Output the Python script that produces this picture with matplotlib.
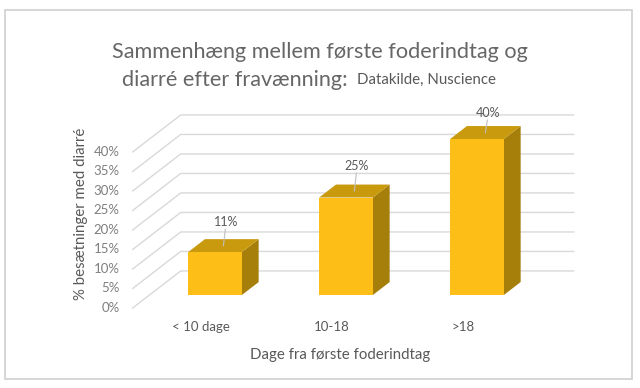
import matplotlib
matplotlib.use("Agg")
import matplotlib.pyplot as plt
from matplotlib.patches import Polygon, Rectangle

categories = ["< 10 dage", "10-18", ">18"]
values = [11, 25, 40]
value_labels = ["11%", "25%", "40%"]
yticks = [0, 5, 10, 15, 20, 25, 30, 35, 40]
ytick_labels = ["0%", "5%", "10%", "15%", "20%", "25%", "30%", "35%", "40%"]

title1 = "Sammenhæng mellem første foderindtag og"
title2a = "diarré efter fravænning: "
title2b = "Datakilde, Nuscience"
xlabel = "Dage fra første foderindtag"
ylabel = "% besætninger med diarré"

FONT = ["Lato", "DejaVu Sans"]
plt.rcParams["font.family"] = FONT

W, H = 640, 388
fig = plt.figure(figsize=(W / 100, H / 100), dpi=100)
ax = fig.add_axes([0, 0, 1, 1])
ax.axis("off")

# pixel geometry of the pseudo-3D frame
PX_CAT = 131.0      # px per category step
PX_VAL = 3.9        # px per percent
X0 = 215.0          # px of category 0 (bar front plane)
Y0 = 295.0          # px (from top) of value 0 (bar front plane)
DEPTH = (48.0, 37.0)  # px per unit depth (right, up)
ax.set_xlim(-X0 / PX_CAT, (W - X0) / PX_CAT)
ax.set_ylim(-(H - Y0) / PX_VAL, Y0 / PX_VAL)

Z_FRONT, Z_BAR, Z_BACK = -0.35, 0.35, 0.65
BAR_W = 0.41


def P(c, v, z=0.0):
    return (c + z * DEPTH[0] / PX_CAT, v + z * DEPTH[1] / PX_VAL)


grid_col = "#D9D9D9"
x_left, x_right = -0.5, len(categories) - 0.5
for t in yticks:
    pts = [P(x_left, t, Z_FRONT), P(x_left, t, Z_BACK), P(x_right, t, Z_BACK)]
    ax.plot([p[0] for p in pts], [p[1] for p in pts], color=grid_col, lw=1.0, zorder=1)

for t, lab in zip(yticks, ytick_labels):
    x, y = P(x_left, t, Z_FRONT)
    ax.annotate(lab, (x, y), xytext=(-13, 0), textcoords="offset pixels",
                ha="right", va="center", fontsize=9.5, color="#7F7F7F")

front_col, top_col, side_col = "#FCBE17", "#C99A0E", "#A67E0A"
label_lift = [4.2, 4.6, 3.2]
for i, v in enumerate(values):
    l, r = i - BAR_W / 2, i + BAR_W / 2
    side = [P(r, 0, 0), P(r, v, 0), P(r, v, Z_BAR), P(r, 0, Z_BAR)]
    top = [P(l, v, 0), P(r, v, 0), P(r, v, Z_BAR), P(l, v, Z_BAR)]
    front = [P(l, 0, 0), P(r, 0, 0), P(r, v, 0), P(l, v, 0)]
    ax.add_patch(Polygon(side, closed=True, fc=side_col, ec="none", zorder=3))
    ax.add_patch(Polygon(top, closed=True, fc=top_col, ec="none", zorder=3))
    ax.add_patch(Polygon(front, closed=True, fc=front_col, ec="none", zorder=4))
    # data label with leader line
    cx, cy = P(i, v, Z_BAR / 2)
    lift = label_lift[i]
    ax.plot([cx, cx + 0.015], [cy, cy + lift], color="#BFBFBF", lw=0.8, zorder=5)
    ax.annotate(value_labels[i], (cx + 0.02, cy + lift), xytext=(0, 1), textcoords="offset pixels",
                ha="center", va="bottom", fontsize=9, color="#595959", zorder=6)

for i, lab in enumerate(categories):
    x, y = P(i, 0, Z_FRONT)
    ax.annotate(lab, (x, y), xytext=(3, -19), textcoords="offset pixels",
                ha="center", va="center", fontsize=9.5, color="#595959")

fig.text(340 / W, 1 - 355 / H, xlabel, ha="center", va="center", fontsize=10.8, color="#595959")
fig.text(81 / W, 1 - 214 / H, ylabel, ha="center", va="center", fontsize=10.8, color="#595959",
         rotation=90)

fig.text(320 / W, 1 - 52 / H, title1, ha="center", va="center", fontsize=15.6, color="#666666")
fig.text(353 / W, 1 - 80 / H, title2a, ha="right", va="center", fontsize=15.6, color="#666666")
fig.text(357 / W, 1 - 80 / H, title2b, ha="left", va="center", fontsize=10.8, color="#595959")

fig.add_artist(Rectangle((5 / W, 1 - 379 / H), 627 / W, 369 / H, transform=fig.transFigure,
                         fill=False, ec="#D0D0D0", lw=1.2))

fig.savefig("out.png", dpi=100, facecolor="white")
